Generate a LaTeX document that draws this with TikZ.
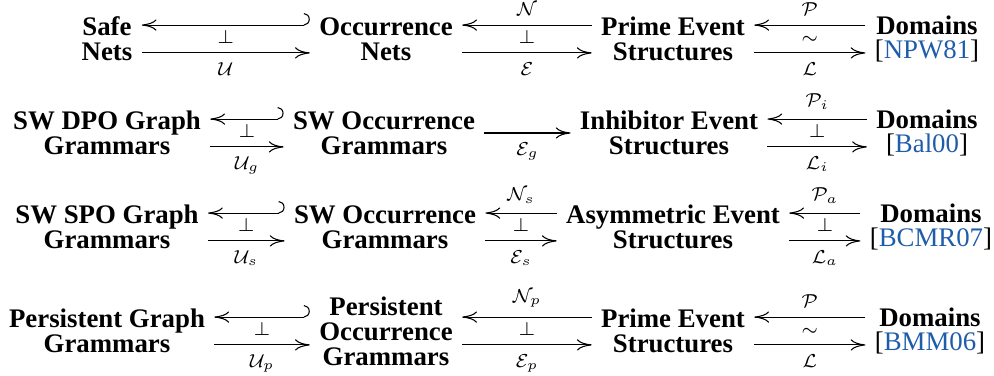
\documentclass[tikz,border=0pt]{standalone}
\usepackage{fontspec}
\setmainfont{Liberation Serif}[BoldFont={Liberation Serif Bold}]
\usepackage{xcolor}
\usetikzlibrary{arrows.meta}
\definecolor{citeblue}{HTML}{1F5CAA}

\begin{document}
\begin{tikzpicture}[x=0.373pt, y=-0.373pt,
    obj/.style={align=center, font=\rmfamily\bfseries\fontsize{10}{9.3}\selectfont},
    lab/.style={font=\scriptsize},
    >={Computer Modern Rightarrow[length=5.5pt,width=4.2pt]},
    hooked/.style={{Hooks[left,width=9pt,length=2.2pt]}->}
]
\useasboundingbox (0,0) rectangle (994,376);

% Ligne 1
\node[obj] (safe) at (107,39) {Safe\\Nets};
\node[obj] (occ) at (386,39) {Occurrence\\Nets};
\node[obj] (pes) at (673,39) {Prime Event\\Structures};
\node[obj] (dom) at (927,39) {Domains\\\mdseries[\textcolor{citeblue}{NPW81}]};

\draw[hooked] ([yshift=5.2pt]occ.west) -- ([yshift=5.2pt]safe.east);
\draw[->] ([yshift=-5.2pt]safe.east) -- ([yshift=-5.2pt]occ.west)
    node[midway,above,lab] {$\perp$} node[midway,below,lab] {$\mathcal{U}$};
\draw[->] ([yshift=5.2pt]pes.west) -- ([yshift=5.2pt]occ.east) node[midway,above,lab] {$\mathcal{N}$};
\draw[->] ([yshift=-5.2pt]occ.east) -- ([yshift=-5.2pt]pes.west)
    node[midway,above,lab] {$\perp$} node[midway,below,lab] {$\mathcal{E}$};
\draw[->] ([yshift=5.2pt]dom.west) -- ([yshift=5.2pt]pes.east) node[midway,above,lab] {$\mathcal{P}$};
\draw[->] ([yshift=-5.2pt]pes.east) -- ([yshift=-5.2pt]dom.west)
    node[midway,above,lab] {$\sim$} node[midway,below,lab] {$\mathcal{L}$};

% Ligne 2
\node[obj] (dpo) at (107,133) {SW DPO Graph\\Grammars};
\node[obj] (swocc) at (384,133) {SW Occurrence\\Grammars};
\node[obj] (ies) at (669,133) {Inhibitor Event\\Structures};
\node[obj] (domi) at (927,133) {Domains\\\mdseries[\textcolor{citeblue}{Bal00}]};

\draw[hooked] ([yshift=5.2pt]swocc.west) -- ([yshift=5.2pt]dpo.east);
\draw[->] ([yshift=-5.2pt]dpo.east) -- ([yshift=-5.2pt]swocc.west)
    node[midway,above,lab] {$\perp$} node[midway,below,lab] {$\mathcal{U}_g$};
\draw[->] (swocc) -- (ies) node[midway,below,lab] {$\mathcal{E}_g$};
\draw[->] ([yshift=5.2pt]domi.west) -- ([yshift=5.2pt]ies.east) node[midway,above,lab] {$\mathcal{P}_i$};
\draw[->] ([yshift=-5.2pt]ies.east) -- ([yshift=-5.2pt]domi.west)
    node[midway,above,lab] {$\perp$} node[midway,below,lab] {$\mathcal{L}_i$};

% Ligne 3
\node[obj] (spo) at (107,227) {SW SPO Graph\\Grammars};
\node[obj] (swoccs) at (385,227) {SW Occurrence\\Grammars};
\node[obj] (aes) at (673,227) {Asymmetric Event\\Structures};
\node[obj] (doma) at (931,227) {Domains\\\mdseries[\textcolor{citeblue}{BCMR07}]};

\draw[hooked] ([yshift=5.2pt]swoccs.west) -- ([yshift=5.2pt]spo.east);
\draw[->] ([yshift=-5.2pt]spo.east) -- ([yshift=-5.2pt]swoccs.west)
    node[midway,above,lab] {$\perp$} node[midway,below,lab] {$\mathcal{U}_s$};
\draw[->] ([yshift=5.2pt]aes.west) -- ([yshift=5.2pt]swoccs.east) node[midway,above,lab] {$\mathcal{N}_s$};
\draw[->] ([yshift=-5.2pt]swoccs.east) -- ([yshift=-5.2pt]aes.west)
    node[midway,above,lab] {$\perp$} node[midway,below,lab] {$\mathcal{E}_s$};
\draw[->] ([yshift=5.2pt]doma.west) -- ([yshift=5.2pt]aes.east) node[midway,above,lab] {$\mathcal{P}_a$};
\draw[->] ([yshift=-5.2pt]aes.east) -- ([yshift=-5.2pt]doma.west)
    node[midway,above,lab] {$\perp$} node[midway,below,lab] {$\mathcal{L}_a$};

% Ligne 4
\node[obj] (pgg) at (107,331) {Persistent Graph\\Grammars};
\node[obj] (pocc) at (386,331) {Persistent\\Occurrence\\Grammars};
\node[obj] (pesp) at (673,331) {Prime Event\\Structures};
\node[obj] (domp) at (930,331) {Domains\\\mdseries[\textcolor{citeblue}{BMM06}]};

\draw[hooked] ([yshift=5.2pt]pocc.west) -- ([yshift=5.2pt]pgg.east);
\draw[->] ([yshift=-5.2pt]pgg.east) -- ([yshift=-5.2pt]pocc.west)
    node[midway,above,lab] {$\perp$} node[midway,below,lab] {$\mathcal{U}_p$};
\draw[->] ([yshift=5.2pt]pesp.west) -- ([yshift=5.2pt]pocc.east) node[midway,above,lab] {$\mathcal{N}_p$};
\draw[->] ([yshift=-5.2pt]pocc.east) -- ([yshift=-5.2pt]pesp.west)
    node[midway,above,lab] {$\perp$} node[midway,below,lab] {$\mathcal{E}_p$};
\draw[->] ([yshift=5.2pt]domp.west) -- ([yshift=5.2pt]pesp.east) node[midway,above,lab] {$\mathcal{P}$};
\draw[->] ([yshift=-5.2pt]pesp.east) -- ([yshift=-5.2pt]domp.west)
    node[midway,above,lab] {$\sim$} node[midway,below,lab] {$\mathcal{L}$};
\end{tikzpicture}
\end{document}
